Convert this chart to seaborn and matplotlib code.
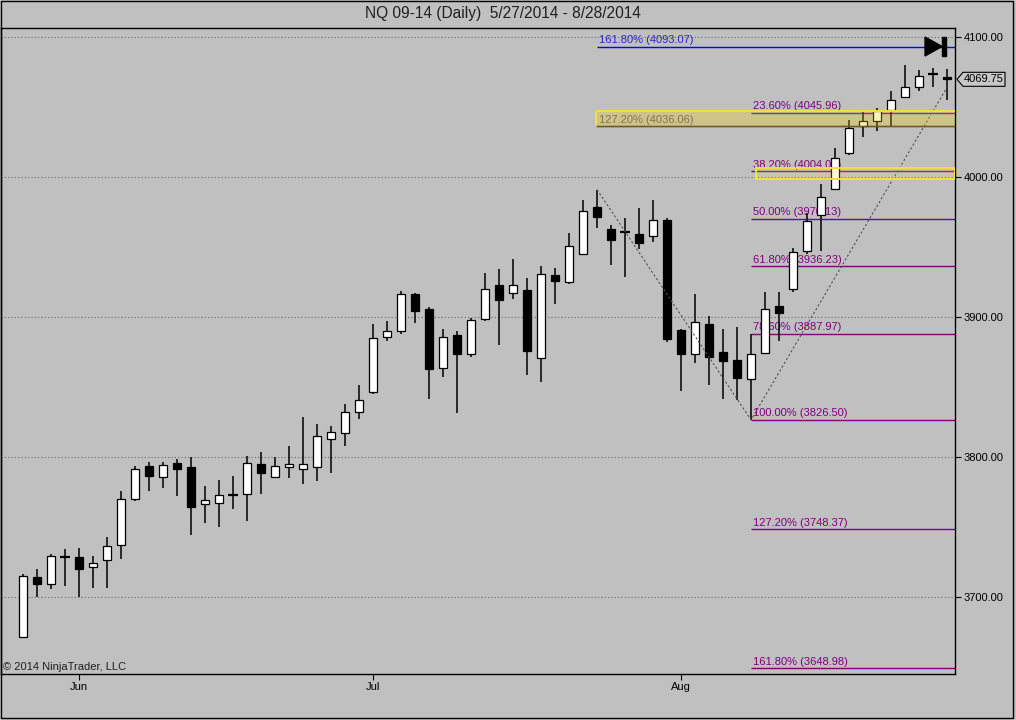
"""
NQ 09-14 daily candlestick chart with Fibonacci levels (NinjaTrader look)
"""
import numpy as np
import pandas as pd
import matplotlib
matplotlib.use("Agg")
import matplotlib.pyplot as plt
import matplotlib.transforms as mtransforms
from matplotlib.patches import Rectangle, Polygon
import seaborn as sns

# ---- data ----
opens = [3671.6, 3714.3, 3709.5, 3728.6, 3728.6, 3721.2, 3726.2, 3736.9, 3770.2, 3793.6,
         3785.5, 3795.7, 3792.9, 3766.2, 3766.9, 3772.9, 3773.4, 3795.0, 3785.9, 3792.6,
         3791.6, 3792.6, 3812.6, 3816.9, 3831.9, 3846.6, 3885.5, 3890.2, 3916.4, 3905.7,
         3863.4, 3887.1, 3873.8, 3898.4, 3922.9, 3916.9, 3919.3, 3870.5, 3929.8, 3924.8,
         3944.8, 3978.6, 3962.6, 3960.7, 3959.1, 3957.6, 3969.3, 3890.5, 3873.4, 3894.8,
         3874.8, 3869.1, 3855.5, 3874.0, 3907.9, 3919.8, 3946.9, 3973.0, 3991.2, 4017.4,
         4036.6, 4040.0, 4048.1, 4057.4, 4064.5, 4073.8, 4071.6]
highs = [3716.4, 3720.0, 3730.7, 3734.3, 3735.0, 3729.3, 3742.9, 3775.7, 3793.6, 3796.4,
         3796.4, 3798.6, 3800.0, 3779.3, 3783.6, 3786.4, 3800.7, 3803.8, 3800.0, 3807.9,
         3828.6, 3823.6, 3822.4, 3838.1, 3851.4, 3895.2, 3897.1, 3918.6, 3917.1, 3907.1,
         3891.4, 3890.0, 3899.3, 3931.4, 3934.5, 3941.6, 3927.9, 3936.4, 3935.0, 3959.8,
         3983.6, 3991.0, 3965.5, 3970.5, 3977.9, 3983.6, 3970.5, 3891.5, 3916.4, 3900.7,
         3891.4, 3893.1, 3887.6, 3917.9, 3917.9, 3949.1, 3974.0, 3994.8, 4020.5, 4040.7,
         4047.4, 4049.3, 4061.4, 4080.0, 4076.4, 4077.6, 4076.9]
lows = [3670.7, 3700.2, 3706.0, 3708.0, 3700.2, 3706.6, 3706.6, 3726.9, 3768.8, 3775.9,
        3778.0, 3772.4, 3744.5, 3753.1, 3750.2, 3763.1, 3754.5, 3773.6, 3784.8, 3784.8,
        3780.7, 3783.0, 3788.8, 3808.1, 3827.1, 3844.8, 3883.1, 3888.1, 3895.9, 3841.2,
        3856.9, 3831.6, 3871.6, 3897.4, 3880.2, 3913.1, 3858.8, 3853.6, 3909.5, 3923.8,
        3944.5, 3963.8, 3937.4, 3928.8, 3948.8, 3953.6, 3881.9, 3847.4, 3867.1, 3851.4,
        3841.6, 3840.7, 3826.5, 3874.0, 3883.1, 3917.6, 3945.2, 3947.4, 3990.5, 4016.0,
        4028.8, 4032.9, 4035.9, 4056.4, 4061.4, 4064.1, 4055.0]
closes = [3715.0, 3709.5, 3729.3, 3728.6, 3720.2, 3724.3, 3736.4, 3769.8, 3791.2, 3786.6,
          3794.1, 3791.6, 3764.5, 3769.1, 3772.6, 3772.9, 3795.5, 3788.8, 3793.4, 3794.8,
          3794.8, 3815.0, 3817.6, 3831.9, 3840.5, 3884.8, 3890.0, 3916.4, 3904.5, 3863.1,
          3885.5, 3873.8, 3897.6, 3920.0, 3912.4, 3922.6, 3875.9, 3930.5, 3925.9, 3950.5,
          3975.5, 3971.6, 3955.2, 3960.7, 3952.6, 3969.1, 3884.5, 3873.4, 3896.6, 3871.6,
          3868.8, 3856.6, 3873.6, 3905.7, 3903.1, 3946.2, 3968.4, 3985.9, 4013.3, 4035.2,
          4040.0, 4047.1, 4054.8, 4064.1, 4072.4, 4073.8, 4069.75]

# Fibonacci retracement (drawn from the August low) and extension (from the July high)
retr_pcts = [23.6, 38.2, 50.0, 61.8, 78.6, 100.0, 127.2, 161.8]
retr_vals = [4045.96, 4004.02, 3970.13, 3936.23, 3887.97, 3826.50, 3748.37, 3648.98]
ext_pcts = [161.8, 127.2]
ext_vals = [4093.07, 4036.06]

# zigzag swing points (bar index, price)
swing_idx = [41, 52, 66]
swing_px = [3991.0, 3826.5, 4064.0]

# highlighted zones (low, high)
zone_ext = (4036.06, 4047.4)
zone_382 = (3998.4, 4006.2)

price_ticks = [3700, 3800, 3900, 4000, 4100]
month_names = ["Jun", "Jul", "Aug"]

TITLE = "NQ 09-14 (Daily)  5/27/2014 - 8/28/2014"
BG = "#c0c0c0"
PURPLE = "#800080"


def main():
    sns.set_style("white")
    plt.rcParams["font.family"] = ["Liberation Sans", "DejaVu Sans"]

    dates = pd.bdate_range("2014-05-27", "2014-08-28").drop(pd.Timestamp("2014-07-04"))
    df = pd.DataFrame({"date": dates, "open": opens, "high": highs,
                       "low": lows, "close": closes})
    df["x"] = np.arange(len(df))
    df["up"] = df["close"] >= df["open"]

    fig = plt.figure(figsize=(10.16, 7.2), dpi=100, facecolor=BG)
    ax = fig.add_axes([1 / 1016, 46 / 720, 954 / 1016, 646 / 720], facecolor=BG)
    xlim = (-1.57, 66.57)
    ax.set_xlim(*xlim)
    ax.set_ylim(3645.0, 4106.4)

    # grid
    for p in price_ticks:
        ax.axhline(p, color="#6a6a6a", lw=0.8, ls=(0, (1, 2)), zorder=0.5)

    # fib retracement lines
    x0r = swing_idx[1]
    for pct, val in zip(retr_pcts, retr_vals):
        ax.hlines(val, x0r, xlim[1], color=PURPLE, lw=1.0, zorder=1)
        ax.text(x0r + 0.14, val + 1.2, f"{pct:.2f}% ({val:.2f})", fontsize=8,
                color=PURPLE, va="bottom", ha="left", zorder=1)

    # fib extension lines
    x0e = swing_idx[0]
    ext_colors = ["#0000ee", "#6e5a2e"]
    ext_text = ["#2828c8", "#5a4f7a"]
    for val, pct, lc, tc in zip(ext_vals, ext_pcts, ext_colors, ext_text):
        ax.hlines(val, x0e, xlim[1], color=lc, lw=1.0, zorder=1)
        ax.text(x0e + 0.14, val + 1.2, f"{pct:.2f}% ({val:.2f})", fontsize=8,
                color=tc, va="bottom", ha="left", zorder=1)

    # candles
    ax.vlines(df["x"], df["low"], df["high"], colors="black", lw=1.1, zorder=2)
    body = (df["close"] - df["open"]).abs()
    solid = body >= 0.6
    ax.bar(df["x"][solid], body[solid],
           bottom=np.minimum(df["open"], df["close"])[solid], width=0.64,
           color=np.where(df["up"][solid], "white", "black"),
           edgecolor="black", linewidth=0.9, zorder=3)
    dj = df[~solid]
    ax.hlines(dj["close"], dj["x"] - 0.34, dj["x"] + 0.34, colors="black",
              lw=1.6, zorder=3)

    # zigzag trend line
    sns.lineplot(x=swing_idx, y=swing_px, ax=ax, color="#505050", lw=0.8,
                 linestyle=(0, (2, 2)), zorder=4)

    # highlighted zones on top (tint the candles)
    ax.add_patch(Rectangle((x0e - 0.07, zone_ext[0]), xlim[1] - x0e + 0.07,
                           zone_ext[1] - zone_ext[0], facecolor="#f0d000",
                           alpha=0.28, edgecolor="none", zorder=5))
    ax.hlines(zone_ext[1], x0e - 0.07, xlim[1], color="#f0e040", lw=1.4, zorder=5)
    ax.vlines(x0e - 0.07, zone_ext[0], zone_ext[1], color="#f0e040", lw=1.4, zorder=5)
    ax.hlines(zone_ext[0], x0e - 0.07, xlim[1], color="#6e5a2e", lw=1.0, zorder=5)

    x382 = x0r + 0.35
    ax.add_patch(Rectangle((x382, zone_382[0]), xlim[1] - x382,
                           zone_382[1] - zone_382[0], facecolor="#f8e060",
                           alpha=0.18, edgecolor="none", zorder=5))
    ax.add_patch(Rectangle((x382, zone_382[0]), xlim[1] - x382,
                           zone_382[1] - zone_382[0], facecolor="none",
                           edgecolor="#f0e040", lw=1.4, zorder=5))

    # axes styling
    for s in ax.spines.values():
        s.set_visible(True)
        s.set_color("black")
        s.set_linewidth(1.0)
    ax.yaxis.tick_right()
    ax.set_yticks(price_ticks, [f"{p:.2f}" for p in price_ticks])
    month_pos = [df.index[df["date"].dt.month == m][0] for m in (6, 7, 8)]
    ax.set_xticks(month_pos, month_names)
    ax.tick_params(axis="y", direction="out", length=4, width=0.8, pad=2,
                   labelsize=8, colors="black", right=True, left=False)
    ax.tick_params(axis="x", direction="out", length=4, width=0.8, pad=2,
                   labelsize=8, colors="black", bottom=True)
    ax.set_xlabel("")
    ax.set_ylabel("")
    ax.grid(False)

    # last price marker on the price axis
    c = closes[-1]
    trans = mtransforms.blended_transform_factory(fig.transFigure, ax.transData)
    px = np.array([957, 963, 1005, 1005, 963]) / 1016
    py = [c, c + 5, c + 5, c - 5, c - 5]
    fig.add_artist(Polygon(np.column_stack([px, py]), closed=True, transform=trans,
                           facecolor="#c8c8c8", edgecolor="black", lw=0.8))
    fig.text(984 / 1016, c, f"{c:.2f}", transform=trans, fontsize=8,
             ha="center", va="center", color="black")

    # "scroll to end" button
    ax.add_patch(Polygon([[0.9686, 0.986], [0.9686, 0.9567], [0.9864, 0.9714]],
                         closed=True, transform=ax.transAxes, color="black",
                         zorder=6, clip_on=False))
    ax.add_patch(Rectangle((0.9866, 0.9567), 0.0035, 0.0300,
                           transform=ax.transAxes, color="black", zorder=6,
                           clip_on=False))

    # texts
    fig.text(503 / 1016, 1 - 13.5 / 720, TITLE, fontsize=11.2, color="#202020",
             ha="center", va="center")
    fig.text(3 / 1016, 1 - 667 / 720, "\u00a9 2014 NinjaTrader, LLC", fontsize=8,
             color="#202020", ha="left", va="center")

    # window frame
    fig.add_artist(Rectangle((0.5 / 1016, 2 / 720), 1012.5 / 1016, 717.5 / 720,
                             transform=fig.transFigure, facecolor="none",
                             edgecolor="black", lw=1.0))

    fig.savefig("out.png", dpi=100, facecolor=BG)
    plt.close("all")


if __name__ == "__main__":
    main()
